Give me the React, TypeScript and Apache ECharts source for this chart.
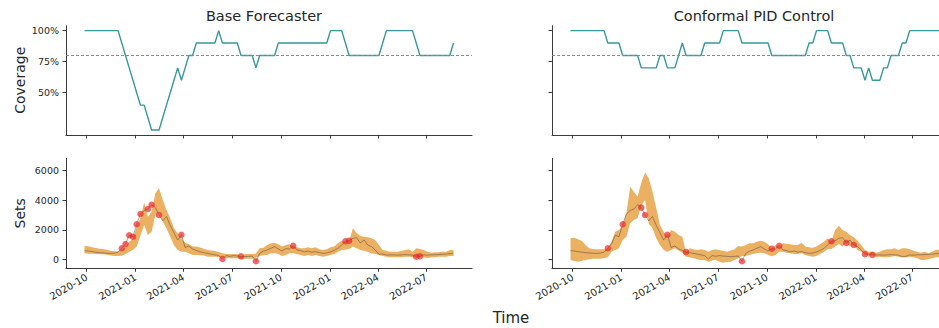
import React, { useEffect, useRef } from "react";
import * as echarts from "echarts";

// ---- data (weekly, starting 2020-09-27) ----
const START_DATE = "2020-09-27";
const xTickLabels = ["2020-10", "2021-01", "2021-04", "2021-07", "2021-10", "2022-01", "2022-04", "2022-07"];
const coverageTicks = [50, 75, 100];
const setsTicks = [0, 2000, 4000, 6000];
const targetCoverage = 80;

const coverageBase = [100,100,100,100,100,100,100,100,100,100, 90,80,70,60,50,40,40,30,20,20, 20,30,40,50,60,70,60,70,80,80, 90,90,90,90,90,90,100,90,90,90, 90,90,80,80,80,80,70,80,80,80, 80,80,90,90,90,90,90,90,90,90, 90,90,90,90,90,90,100,100,100,100, 90,80,80,80,80,80,80,80,80,80, 90,100,100,100,100,100,100,100,100,90, 80,80,80,80,80,80,80,80,80,90];
const coveragePID = [100,100,100,100,100,100,100,100,100,100, 90,90,90,90,80,80,80,80,80,70, 70,70,70,70,80,80,70,70,70,80, 90,80,80,80,80,80,90,90,90,90, 90,100,100,100,100,100,90,90,90,90, 90,90,90,90,80,80,80,80,80,80, 80,80,80,80,90,90,100,100,100,100, 90,90,90,90,80,80,70,70,70,60, 70,60,60,60,70,70,80,80,80,90, 90,100,100,100,100,100,100,100,100,100];

const truth = [587,560,520,480,450,430,410,400,420,480, 745,1036,1625,1530,2370,3067,3300,3405,3697,3500, 3000,2600,2900,2300,1800,1300,1666,800,900,700, 600,500,450,400,350,300,250,20,250,200, 250,220,200,180,200,220,-135,400,550,632, 745,858,700,564,720,700,920,632,587,500, 560,480,520,450,400,430,500,600,750,970, 1218,1260,1422,1467,1100,1309,968,858,632,338, 361,290,300,293,280,300,320,300,280,176, 203,293,280,300,310,320,330,350,380,406];

const baseLower = [406,380,370,360,350,340,300,260,230,226, 240,361,519,632,858,1600,2325,1648,1873,3000, 3200,2550,2100,1535,970,632,519,519,406,293, 293,280,250,180,180,170,150,135,68,68, 68,68,0,45,45,45,100,226,293,293, 406,406,361,226,293,406,406,361,293,226, 293,226,293,226,180,226,293,361,519,632, 650,700,858,745,632,587,519,406,361,293, 226,180,135,135,135,135,180,180,135,226, 240,135,68,135,135,180,180,180,226,226];
const baseUpper = [925,880,820,760,720,700,650,580,540,530, 632,858,1196,1400,2212,2800,3860,2889,3227,4469, 4807,4017,3340,2776,2100,1760,1420,1128,1038,858, 858,800,720,632,600,560,500,406,361,361, 361,361,170,361,361,361,400,745,790,970, 1083,1128,1015,858,970,1015,850,812,745,745, 812,745,812,677,632,677,812,858,1083,1264, 1150,1200,2100,1805,1580,1535,1490,1422,1309,970, 632,587,519,519,519,560,632,677,519,745, 700,632,519,451,470,470,519,519,632,632];
const pidLower = [-45,-113,-158,-113,-45,0,45,45,45,68, 135,519,632,745,1309,1535,2437,2663,2776,3650, 4017,2400,2100,1422,970,632,519,632,745,600, 450,180,135,68,0,-45,-45,-158,-90,-45, -158,-226,-180,-158,-45,68,226,226,293,361, 406,451,406,293,200,293,519,519,451,406, 361,361,406,293,226,180,226,361,519,677, 700,858,1038,858,1180,858,1000,632,519,400, 180,330,135,180,135,135,180,226,180,135, 135,180,135,68,-45,-45,0,68,135,135];
const pidUpper = [1422,1467,1354,1264,970,745,700,677,677,677, 677,1196,1873,1986,2257,3115,4920,4582,4243,5200, 5870,5484,4582,3453,2325,1873,1490,1986,1873,1648, 1535,480,745,677,632,677,632,519,632,677, 632,564,519,600,677,903,858,970,1083,1083, 1196,1264,1196,1038,650,970,850,1083,1038,1015, 970,970,1128,858,812,790,858,1038,1196,1422, 1180,1986,2257,1986,1873,1648,1500,1264,970,632, 519,520,451,519,632,677,677,745,632,745, 745,677,587,519,451,519,406,519,632,677];

const baseMissIdx = [10,11,12,13,14,15,17,18,20,26,37,42,46,56,70,71,89,90];
const pidMissIdx = [10,14,19,20,26,31,46,54,56,70,74,76,79,81];

// ---- helpers ----
const DAY = 86400000;
const startMs = Date.parse(START_DATE + "T00:00:00Z");
const dates = truth.map((_, i) => startMs + i * 7 * DAY);
const pad = 34.75 * DAY;
const xMin = dates[0] - pad;
const xMax = dates[dates.length - 1] + pad;
const xTickValues = xTickLabels.map((s) => Date.parse(s + "-01T00:00:00Z"));

const FONT = "DejaVu Sans";
const TEXT = "#262626";
const AXIS = "#3a3a3a";
const TEAL = "#38979c";
const BAND = "#ecb062";

const pairs = (ys: number[]) => ys.map((y, i) => [dates[i], y]);

export default function App() {
  const ref = useRef<HTMLDivElement>(null);
  useEffect(() => {
    if (!ref.current) return;
    const chart = echarts.init(ref.current, null, { renderer: "svg" });

    const W = 939;
    const gridL = 66, gridR = 552, gridW = 406;
    const gridRW = W - gridR; // right panel is cut by the figure edge
    const xMaxRight = xMin + (gridRW / gridW) * (xMax - xMin);
    const topT = 25.7, topH = 109.2, botT = 158.3, botH = 110;
    const grids = [
      { left: gridL, top: topT, width: gridW, height: topH },
      { left: gridR, top: topT, width: gridRW, height: topH },
      { left: gridL, top: botT, width: gridW, height: botH },
      { left: gridR, top: botT, width: gridRW, height: botH },
    ];

    const fmtDate = (v: number) => {
      const d = new Date(v);
      const m = d.getUTCMonth() + 1;
      return d.getUTCFullYear() + "-" + (m < 10 ? "0" + m : "" + m);
    };

    const xAxis = [0, 1, 2, 3].map((g) => ({
      type: "value",
      gridIndex: g,
      min: xMin,
      max: g % 2 === 1 ? xMaxRight : xMax,
      splitLine: { show: false },
      axisLine: { show: true, onZero: false, lineStyle: { color: AXIS, width: 1 } },
      axisTick: { show: true, length: 3.5, customValues: xTickValues, lineStyle: { color: AXIS, width: 1 } },
      axisLabel: {
        show: g >= 2,
        customValues: xTickValues,
        formatter: (v: number) => fmtDate(v),
        rotate: 30,
        margin: 8,
        fontSize: 10,
        fontFamily: FONT,
        color: TEXT,
      },
    }));

    const yAxis = [0, 1, 2, 3].map((g) => {
      const isTop = g < 2;
      const ticks = isTop ? coverageTicks : setsTicks;
      return {
        type: "value",
        gridIndex: g,
        min: isTop ? 16 : -610,
        max: isTop ? 104 : 6840,
        splitLine: { show: false },
        name: g === 0 ? "Coverage" : g === 2 ? "Sets" : "",
        nameLocation: "middle",
        nameGap: 39,
        nameTextStyle: { fontSize: 14, fontFamily: FONT, color: TEXT },
        axisLine: { show: true, onZero: false, lineStyle: { color: AXIS, width: 1 } },
        axisTick: { show: true, length: 3.5, customValues: ticks, lineStyle: { color: AXIS, width: 1 } },
        axisLabel: {
          show: g === 0 || g === 2,
          customValues: ticks,
          formatter: (v: number) => (isTop ? v + "%" : String(v)),
          margin: 7,
          fontSize: 9.5,
          fontFamily: FONT,
          color: TEXT,
        },
      };
    });

    const coverageSeries = (data: number[], g: number) => ({
      type: "line",
      xAxisIndex: g,
      yAxisIndex: g,
      data: pairs(data),
      symbol: "none",
      lineStyle: { color: TEAL, width: 1.4 },
      markLine: {
        silent: true,
        symbol: ["none", "none"],
        label: { show: false },
        lineStyle: { color: "#8a8a8a", type: [3, 2], width: 1 },
        data: [{ yAxis: targetCoverage }],
      },
      z: 3,
    });

    const setSeries = (lo: number[], hi: number[], miss: number[], g: number) => [
      {
        type: "custom",
        xAxisIndex: g,
        yAxisIndex: g,
        data: dates.map((d, i) => [d, lo[i], hi[i]]),
        encode: { x: 0, y: [1, 2] },
        renderItem: (params: any, api: any) => {
          if (params.dataIndex !== 0) return null;
          const pts: number[][] = [];
          for (let i = 0; i < dates.length; i++) pts.push(api.coord([dates[i], hi[i]]));
          for (let i = dates.length - 1; i >= 0; i--) pts.push(api.coord([dates[i], lo[i]]));
          return { type: "polygon", shape: { points: pts }, style: { fill: BAND, stroke: "none" } };
        },
        silent: true,
        z: 1,
      },
      {
        type: "line",
        xAxisIndex: g,
        yAxisIndex: g,
        data: pairs(truth),
        symbol: "none",
        lineStyle: { color: "rgba(60,60,60,0.45)", width: 1 },
        z: 2,
      },
      {
        type: "scatter",
        xAxisIndex: g,
        yAxisIndex: g,
        data: miss.map((i) => [dates[i], truth[i]]),
        symbolSize: 6.5,
        itemStyle: { color: "rgba(235,32,32,0.85)" },
        z: 3,
      },
    ];

    const option = {
      animation: false,
      grid: grids,
      xAxis,
      yAxis,
      graphic: [
        { type: "text", x: 264, y: 16, style: { text: "Base Forecaster", align: "center", verticalAlign: "middle", fontSize: 14.5, fontFamily: FONT, fill: TEXT } },
        { type: "text", x: 754, y: 16, style: { text: "Conformal PID Control", align: "center", verticalAlign: "middle", fontSize: 14.5, fontFamily: FONT, fill: TEXT } },
        { type: "text", x: 511, y: 318, style: { text: "Time", align: "center", verticalAlign: "middle", fontSize: 15, fontFamily: FONT, fill: TEXT } },
      ],
      series: [
        coverageSeries(coverageBase, 0),
        coverageSeries(coveragePID, 1),
        ...setSeries(baseLower, baseUpper, baseMissIdx, 2),
        ...setSeries(pidLower, pidUpper, pidMissIdx, 3),
      ],
    };

    chart.setOption(option as any);
    return () => chart.dispose();
  }, []);

  return <div ref={ref} style={{ position: "fixed", left: 0, top: 0, width: 939, height: 328, background: "#fff" }} />;
}
